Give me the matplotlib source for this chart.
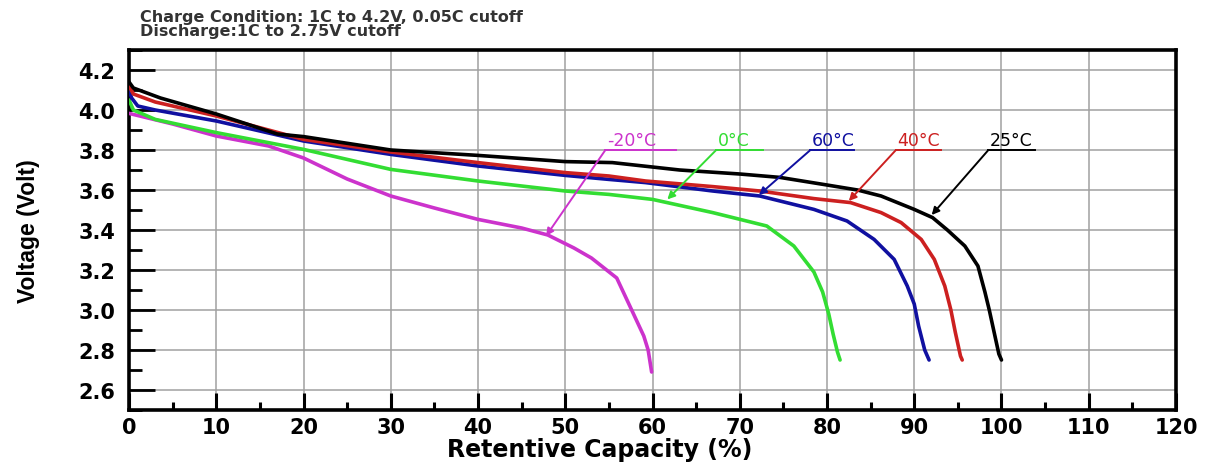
import matplotlib
matplotlib.use('Agg')
import matplotlib.pyplot as plt
from matplotlib.ticker import MultipleLocator

# Discharge curves: capacity (%) vs voltage (V)
cap_25 = [0, 0.5, 3.6, 10, 17, 20, 30, 40, 50, 55.4, 63.1, 70, 74.6, 80, 83.5,
          86.2, 90, 92.1, 93.8, 95.8, 97.3, 98.1, 98.6, 99.1, 99.7, 100]
volt_25 = [4.14, 4.11, 4.06, 3.98, 3.88, 3.867, 3.80, 3.773, 3.742, 3.737, 3.70,
           3.68, 3.663, 3.625, 3.60, 3.57, 3.503, 3.462, 3.40, 3.32, 3.22, 3.09,
           3.0, 2.90, 2.78, 2.75]

cap_40 = [0, 0.5, 3, 10, 20, 30, 40, 50, 55, 59.2, 66.9, 72.3, 78.5, 82.7, 86.2,
          88.5, 90.8, 92.3, 93.5, 94.2, 94.7, 95.3, 95.5]
volt_40 = [4.12, 4.08, 4.04, 3.97, 3.853, 3.79, 3.737, 3.687, 3.67, 3.645, 3.617,
           3.595, 3.557, 3.537, 3.487, 3.437, 3.353, 3.253, 3.12, 3.0, 2.89,
           2.77, 2.75]

cap_60 = [0, 0.3, 1, 3, 10, 20, 30, 40, 50, 55, 59.2, 66.9, 72.3, 78.5, 82.3,
          85.4, 87.7, 89.2, 90, 90.5, 91.2, 91.7]
volt_60 = [4.10, 4.06, 4.02, 4.0, 3.945, 3.845, 3.778, 3.72, 3.673, 3.653, 3.637,
           3.595, 3.57, 3.503, 3.445, 3.353, 3.253, 3.12, 3.03, 2.92, 2.80, 2.75]

cap_0 = [0, 0.5, 3, 10, 20, 30, 40, 50, 55, 60, 66.9, 73.1, 76.2, 78.5, 79.5,
         80.2, 80.7, 81.2, 81.5]
volt_0 = [4.05, 4.0, 3.953, 3.887, 3.803, 3.703, 3.645, 3.595, 3.578, 3.553,
          3.487, 3.42, 3.32, 3.19, 3.09, 2.98, 2.88, 2.79, 2.75]

cap_m20 = [0, 5, 10, 16, 20, 25, 30, 35, 40, 45, 48, 51, 53, 55.9, 57.4, 59,
           59.5, 59.9]
volt_m20 = [3.983, 3.93, 3.87, 3.82, 3.76, 3.655, 3.57, 3.51, 3.453, 3.41, 3.375,
            3.31, 3.26, 3.16, 3.02, 2.87, 2.80, 2.69]

labels = ['-20°C', '0°C', '60°C', '40°C', '25°C']
colors = ['#cc33cc', '#33dd33', '#1010a0', '#cc2020', '#000000']
curves = [(cap_m20, volt_m20), (cap_0, volt_0), (cap_60, volt_60),
          (cap_40, volt_40), (cap_25, volt_25)]

# callout: underline start / end at 3.8 V, arrow tip on the curve
line_start = [54.6, 67.3, 78.1, 87.9, 98.5]
line_end = [62.7, 72.7, 83.1, 93.1, 103.8]
arrow_tip = [(47.8, 3.37), (61.7, 3.553), (72.2, 3.575), (82.5, 3.545), (92.0, 3.475)]

fig = plt.figure(figsize=(12.07, 4.64), dpi=100)
ax = fig.add_axes([0.1069, 0.1142, 0.8674, 0.7759])

for (x, y), c in zip(curves, colors):
    ax.plot(x, y, color=c, lw=2.6, solid_capstyle='round', zorder=3)

for lab, c, x0, x1, tip in zip(labels, colors, line_start, line_end, arrow_tip):
    ax.plot([x0, x1], [3.8, 3.8], color=c, lw=1.4, zorder=4)
    ax.annotate('', xy=tip, xytext=(x0, 3.8),
                arrowprops=dict(arrowstyle='-|>', color=c, lw=1.4,
                                mutation_scale=11, shrinkA=0, shrinkB=0),
                zorder=4)
    ax.text(x0 + 0.2, 3.805, lab, color=c, fontsize=12.5, ha='left', va='bottom')

ax.set_xlim(0, 120)
ax.set_ylim(2.5, 4.3)
ax.xaxis.set_major_locator(MultipleLocator(10))
ax.xaxis.set_minor_locator(MultipleLocator(5))
ax.set_yticks([2.6, 2.8, 3.0, 3.2, 3.4, 3.6, 3.8, 4.0, 4.2])
ax.yaxis.set_minor_locator(MultipleLocator(0.1))
ax.grid(True, which='major', color='#a0a0a0', lw=1.1)

ax.tick_params(axis='y', which='major', direction='in', length=19, width=2, pad=10)
ax.tick_params(axis='y', which='minor', direction='in', length=9, width=2)
ax.tick_params(axis='x', which='major', direction='in', length=12, width=2.2, pad=5)
ax.tick_params(axis='x', which='minor', direction='in', length=6, width=2.2)
ax.set_xticklabels([str(int(v)) for v in ax.get_xticks()], fontsize=15, fontweight='bold')
ax.set_yticklabels(['%.1f' % v for v in ax.get_yticks()], fontsize=15, fontweight='bold')
for s in ax.spines.values():
    s.set_linewidth(2.6)

ax.set_xlabel('Retentive Capacity (%)', fontsize=17, fontweight='bold')
ax.xaxis.set_label_coords(0.45, -0.076)
ax.set_ylabel('Voltage (Volt)', fontsize=16.5, fontweight='bold',
              family=['Liberation Sans Narrow', 'Liberation Sans', 'DejaVu Sans'])
ax.yaxis.set_label_coords(-0.085, 0.5)

fig.text(0.116, 0.962, 'Charge Condition: 1C to 4.2V, 0.05C cutoff', fontsize=11.5,
         fontweight='bold', color='#333333', va='center')
fig.text(0.116, 0.933, 'Discharge:1C to 2.75V cutoff', fontsize=11.5,
         fontweight='bold', color='#333333', va='center')

fig.savefig('out.png', dpi=100)
